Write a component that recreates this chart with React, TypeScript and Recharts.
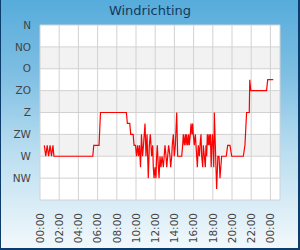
import { CartesianGrid, Line, LineChart, XAxis, YAxis } from 'recharts'

// compass labels, bottom (0) to top (8)
const directionLabels = ['', 'NW', 'W', 'ZW', 'Z', 'ZO', 'O', 'NO', 'N']
const directionTicks = [0, 1, 2, 3, 4, 5, 6, 7, 8]
const hourTicks = [0, 2, 4, 6, 8, 10, 12, 14, 16, 18, 20, 22, 24, 25]

// measurement times (hours since 00:00) and direction (compass steps)
const hours = [
  0.45, 0.6, 0.75, 0.9, 1.05, 1.2, 1.35, 1.45,
  5.5, 5.6, 6.15, 6.3,
  9.0, 9.1, 9.35, 9.45, 9.7, 9.8,
  9.95, 10.05, 10.16, 10.26, 10.36, 10.47, 10.57, 10.68, 10.78, 10.94,
  11.04, 11.15, 11.28, 11.39, 11.49,
  11.56, 11.63, 11.74, 11.8, 11.88, 11.98,
  12.08, 12.15, 12.22, 12.33, 12.4, 12.5, 12.6, 12.71, 12.85,
  13.02, 13.13, 13.2, 13.3, 13.4, 13.54, 13.61, 13.72, 13.78, 13.89, 13.99,
  14.1, 14.24, 14.34, 14.76, 14.86, 14.93,
  15.03, 15.14, 15.21, 15.28, 15.38, 15.49, 15.55, 15.66, 15.73, 15.83, 15.9, 15.97,
  16.07, 16.18, 16.32, 16.39, 16.49, 16.6, 16.67, 16.77, 16.84, 16.95,
  17.01, 17.12, 17.22, 17.29, 17.36, 17.43, 17.53, 17.6, 17.68, 17.75, 17.83, 17.9, 17.96,
  18.03, 18.1, 18.16, 18.4, 18.53, 18.65, 18.75, 18.92,
  19.4, 19.55, 19.79, 19.97,
  21.18, 21.35, 21.52, 21.8, 21.85, 21.96,
  23.6, 23.72, 24.3
]
const directions = [
  2.5, 2, 2.5, 2, 2.5, 2, 2.5, 2,
  2, 2.5, 2.5, 4,
  4, 3.5, 3.5, 3, 3, 2.5,
  2.5, 2, 2.5, 2, 2.5, 1.5, 3, 2, 2.5, 3.5,
  2, 3, 1, 2.5, 3,
  2.5, 2, 2.5, 1.5, 1, 1.5,
  1, 2, 2.5, 1.5, 1, 2, 1.5, 2, 1.5,
  2.5, 2, 1.5, 2, 2.5, 2, 1.5, 2, 2.5, 3, 2,
  2.5, 4, 2, 2, 2.5, 3,
  2.5, 3, 2.5, 3, 2.5, 3, 2.5, 3, 3.5, 3, 3.5, 3,
  2.5, 3, 2, 1.5, 2.5, 2, 2.5, 3, 2, 1.5,
  2.5, 2, 1.5, 2.5, 2, 3, 2.5, 3, 2.5, 3, 1.5, 2.5, 3,
  2.5, 1.5, 4, 0.5, 2, 2, 1, 2,
  2, 2.5, 2.5, 2,
  2, 2.5, 4, 4, 5.5, 5,
  5, 5.5, 5.5
]

const data = hours.map((h, i) => ({ h, dir: directions[i] }))

const font = 'DejaVu Sans'

function hourLabel(h: number) {
  if (h > 24) return ''
  return `${String(h % 24).padStart(2, '0')}:00`
}

function TimeTick({ x, y, payload }: any) {
  const label = hourLabel(payload.value)
  if (!label) return <g />
  return (
    <g transform={`translate(${x},${y + 5}) rotate(-90)`}>
      <text textAnchor="end" dy="0.36em" fill="#444" fontSize={10.5} fontFamily={font}>
        {label}
      </text>
    </g>
  )
}

export default function App() {
  return (
    <div
      style={{
        position: 'absolute',
        left: 0,
        top: 0,
        width: 300,
        height: 250,
        background: 'linear-gradient(to bottom, #56acdb 0%, #7fbfe3 30%, #b9ddf0 60%, #f3f9fc 100%)',
        overflow: 'hidden'
      }}
    >
      <div
        style={{
          position: 'absolute',
          left: 0,
          top: 3,
          width: 300,
          textAlign: 'center',
          fontFamily: font,
          fontSize: 13,
          color: '#15395b'
        }}
      >
        Windrichting
      </div>
      <div style={{ position: 'absolute', left: 0, top: 0 }}>
        <LineChart width={300} height={250} data={data} margin={{ top: 25, right: 20, left: 0, bottom: 0 }}>
          <CartesianGrid
            stroke="#d2d2d2"
            fill="#ffffff"
            horizontalFill={['#ffffff', '#f2f2f2', '#ffffff', '#f2f2f2', '#ffffff', '#f2f2f2', '#ffffff', '#ffffff']}
          />
          <XAxis
            dataKey="h"
            type="number"
            domain={[0, 25]}
            ticks={hourTicks}
            interval={0}
            height={50}
            axisLine={false}
            tickLine={false}
            tick={<TimeTick />}
          />
          <YAxis
            type="number"
            domain={[0, 8]}
            ticks={directionTicks}
            interval={0}
            width={40}
            axisLine={false}
            tickLine={false}
            tickMargin={3}
            tickFormatter={(v: number) => directionLabels[v] ?? ''}
            tick={{ fill: '#444', fontSize: 10.5, fontFamily: font }}
          />
          <Line
            type="linear"
            dataKey="dir"
            stroke="#ff0000"
            strokeWidth={1.2}
            dot={false}
            isAnimationActive={false}
          />
        </LineChart>
      </div>
      <div
        style={{
          position: 'absolute',
          inset: 0,
          boxSizing: 'border-box',
          borderLeft: '1px solid #0c3c6c',
          borderRight: '2px solid #0c3c6c',
          borderBottom: '2px solid #0c3c6c',
          pointerEvents: 'none'
        }}
      />
    </div>
  )
}
